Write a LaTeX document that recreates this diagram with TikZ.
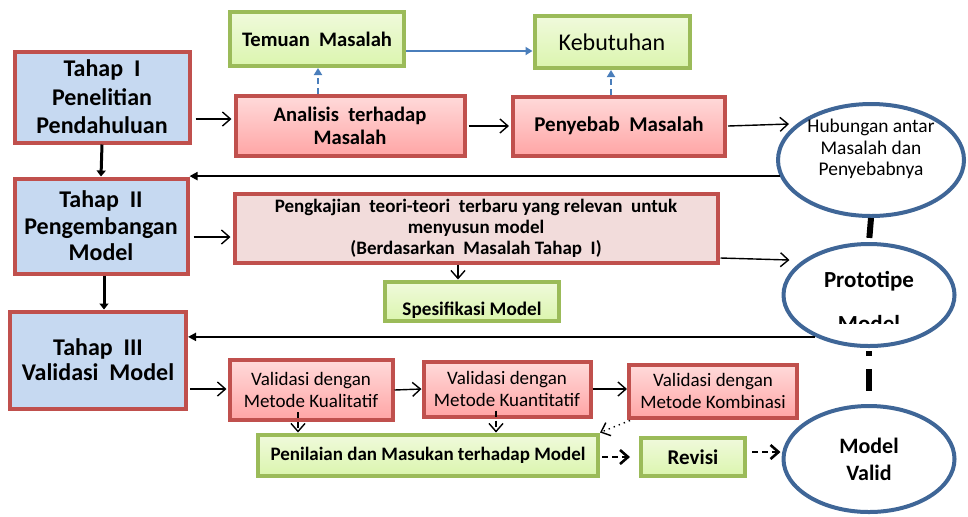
\documentclass[tikz,border=0pt]{standalone}
\usepackage{fontspec}
\setmainfont{Carlito}
\usepackage{tikz}
\usetikzlibrary{calc}
\usetikzlibrary{arrows.meta,shapes.geometric}

\definecolor{merah}{HTML}{C0504D}
\definecolor{birumuda}{HTML}{C6D9F1}
\definecolor{pinkatas}{HTML}{FFDADA}
\definecolor{pinkbawah}{HTML}{FFA5A5}
\definecolor{pinkpucat}{HTML}{F2DCDB}
\definecolor{hijau}{HTML}{9BBB59}
\definecolor{hijauatas}{HTML}{F0FADC}
\definecolor{hijaubawah}{HTML}{DBF5AE}
\definecolor{biru}{HTML}{4A7EBB}
\definecolor{birutua}{HTML}{3F6697}

\begin{document}
\begin{tikzpicture}[x=0.5pt, y=-0.5pt,
	tahapbox/.style={rectangle, draw=merah, line width=2pt, fill=birumuda, align=center, inner sep=0pt},
	redbox/.style={rectangle, draw=merah, line width=2pt, top color=pinkatas, bottom color=pinkbawah, align=center, inner sep=0pt},
	greenbox/.style={rectangle, draw=hijau, line width=2pt, top color=hijauatas, bottom color=hijaubawah, align=center, inner sep=0pt},
	oval/.style={ellipse, draw=birutua, line width=2pt, fill=white, inner sep=0pt, align=center},
	blk/.style={draw=black, line width=0.7pt, -{Straight Barb[length=4pt,width=7pt]}},
	blkthick/.style={draw=black, line width=1.5pt, -{Triangle[length=3pt,width=4.5pt]}},
	blkback/.style={draw=black, line width=1pt, -{Triangle[length=4pt,width=4pt]}},
	bluearr/.style={draw=biru, line width=1pt, -{Triangle[length=3.5pt,width=4pt]}}]
	\useasboundingbox (0,0) rectangle (968,516);

	\node[tahapbox, minimum width=87.5pt, minimum height=45.5pt, font=\fontsize{12}{14.25}\selectfont\bfseries] (tahapI) at (102,97) {Tahap~~I\\Penelitian\\Pendahuluan};
	\node[tahapbox, minimum width=86.5pt, minimum height=47.5pt, font=\fontsize{12}{13.25}\selectfont\bfseries] (tahapII) at (101,226) {Tahap~~II\\Pengembangan\\Model};
	\node[tahapbox, minimum width=88pt, minimum height=48.5pt, font=\fontsize{12}{12.5}\selectfont\bfseries] (tahapIII) at (98,360) {Tahap~~III\\Validasi~~Model};

	\node[greenbox, minimum width=87pt, minimum height=27pt, font=\fontsize{10.3}{12}\selectfont\bfseries] (temuan) at (317,39) {Temuan~~Masalah};
	\node[greenbox, minimum width=77.5pt, minimum height=26pt, font=\fontsize{12}{13}\selectfont] (kebutuhan) at (612,42) {Kebutuhan};
	\node[redbox, minimum width=114.5pt, minimum height=30pt, font=\fontsize{10.3}{11.5}\selectfont\bfseries] (analisis) at (350,126) {Analisis~~terhadap\\Masalah};
	\node[redbox, minimum width=106pt, minimum height=29.5pt, font=\fontsize{10.5}{12}\selectfont\bfseries] (penyebab) at (619,126) {Penyebab~~Masalah};

	\node[oval, minimum width=93pt, minimum height=56pt] (hubungan) at (871,160) {};
	\node[font=\fontsize{9.7}{10.75}\selectfont, align=center] (hubtext) at (871,149) {Hubungan antar\\Masalah dan\\Penyebabnya};

	\node[redbox, top color=pinkpucat, bottom color=pinkpucat, minimum width=241.5pt, minimum height=34.5pt, font=\fontsize{9.5}{10.5}\selectfont\bfseries] (pengkajian) at (476,228) {Pengkajian~~teori-teori~~terbaru yang relevan~~untuk\\menyusun model\\(Berdasarkan~~Masalah~Tahap~~I)};
	\node[greenbox, minimum width=87pt, text height=15pt, text depth=0.5pt, inner ysep=2pt, font=\fontsize{9.6}{11}\selectfont\bfseries] (spesifikasi) at (472,301) {Spesifikasi Model};

	\node[oval, minimum width=85.5pt, minimum height=51pt] (prototipe) at (869,295) {};
	\node[font=\fontsize{11.5}{13}\selectfont\bfseries] (prototext) at (869,281) {Prototipe};
	\begin{scope}
		\clip (820,300) rectangle (920,323);
		\node[anchor=base, font=\fontsize{11.5}{13}\selectfont\bfseries] (protomodel) at (869,331) {Model};
	\end{scope}

	\node[redbox, minimum width=81.5pt, minimum height=30pt, font=\fontsize{9.5}{11}\selectfont] (kualitatif) at (311,390) {Validasi dengan\\Metode Kualitatif};
	\node[redbox, minimum width=83.5pt, minimum height=27.5pt, font=\fontsize{9.5}{11}\selectfont] (kuantitatif) at (507,389) {Validasi dengan\\Metode Kuantitatif};
	\node[redbox, minimum width=84pt, minimum height=26.5pt, font=\fontsize{9.5}{11}\selectfont] (kombinasi) at (713,391) {Validasi dengan\\Metode Kombinasi};

	\node[greenbox, minimum width=170pt, minimum height=20.5pt, font=\fontsize{9.5}{11}\selectfont\bfseries] (penilaian) at (428,455) {Penilaian dan Masukan terhadap Model};
	\node[greenbox, minimum width=52pt, minimum height=19pt, font=\fontsize{10.5}{12}\selectfont\bfseries] (revisi) at (693,457) {Revisi};
	\node[oval, minimum width=85.5pt, minimum height=53pt, font=\fontsize{11}{13.5}\selectfont\bfseries] (valid) at (869,459) {Model\\Valid};

	%tahap ke tahap
	\draw[blkthick] (tahapI.south) -- (tahapII.north);
	\draw[blkthick] ($(tahapII.south)+(3,0)$) -- ($(tahapIII.north)+(6,0)$);

	\draw[bluearr] ($(temuan.east)+(0,12)$) -- ($(kebutuhan.west)+(0,9)$);
	\draw[bluearr, dash pattern=on 3pt off 2pt] ($(analisis.north)+(-32,0)$) -- ($(temuan.south)+(1,0)$);
	\draw[bluearr, dash pattern=on 3pt off 2pt] ($(penyebab.north)+(-8,0)$) -- ($(kebutuhan.south)+(-1,0)$);

	\draw[blk] ($(tahapI.east)+(4,22)$) -- ($(analisis.west)+(-2,-7)$);
	\draw[blk] ($(analisis.east)+(2,0)$) -- ($(penyebab.west)+(-2,0)$);
	\draw[blk] ($(penyebab.east)+(1,0)$) -- ($(hubungan.west)+(13,-36)$);
	\draw[blkback] (hubungan.190) -- (hubungan.190 -| tahapII.east);

	\draw[blk] ($(tahapII.east)+(4,11)$) -- ($(pengkajian.west)+(-2,9)$);
	\draw[blk] ($(pengkajian.east)+(1,30)$) -- ($(prototipe.west)+(8,-35)$);
	\draw[blk] ($(pengkajian.south)+(-18,0)$) -- ($(spesifikasi.north)+(-14,0)$);
	\draw[blkback] (prototipe.218) -- (prototipe.218 -| tahapIII.east);

	\draw[black, line width=3pt, dash pattern=on 10pt off 5pt] (hubungan.south) -- (prototipe.north);
	\draw[black, line width=3pt, dash pattern=on 2.5pt off 6.5pt on 11pt off 7pt] ($(prototipe.south)+(0,3)$) -- (valid.north);

	\draw[blk] ($(tahapIII.east)+(2,29)$) -- ($(kualitatif.west)+(-1,-1)$);
	\draw[blk] (kualitatif.east) -- (kuantitatif.west);
	\draw[blk] (kuantitatif.east) -- (kombinasi.west |- kuantitatif.east);

	\draw[blk, dash pattern=on 3pt off 2pt] ($(kualitatif.south)+(-13,-10)$) -- ($(penilaian.north)+(-130,0)$);
	\draw[blk, dash pattern=on 3pt off 2pt] ($(kuantitatif.south)+(-11,-8)$) -- ($(penilaian.north)+(68,0)$);
	\draw[blk, dotted] ($(kombinasi.south west)+(3,1)$) -- (penilaian.north east);

	\draw[blk, line width=1.3pt, dash pattern=on 3pt off 2pt] ($(penilaian.east)+(2,2)$) -- ($(revisi.west)+(-9,0)$);
	\draw[blk, line width=1.3pt, dash pattern=on 3pt off 2pt] ($(revisi.east)+(5,-5)$) -- ($(valid.west)+(-1,-7)$);

\end{tikzpicture}
\end{document}
